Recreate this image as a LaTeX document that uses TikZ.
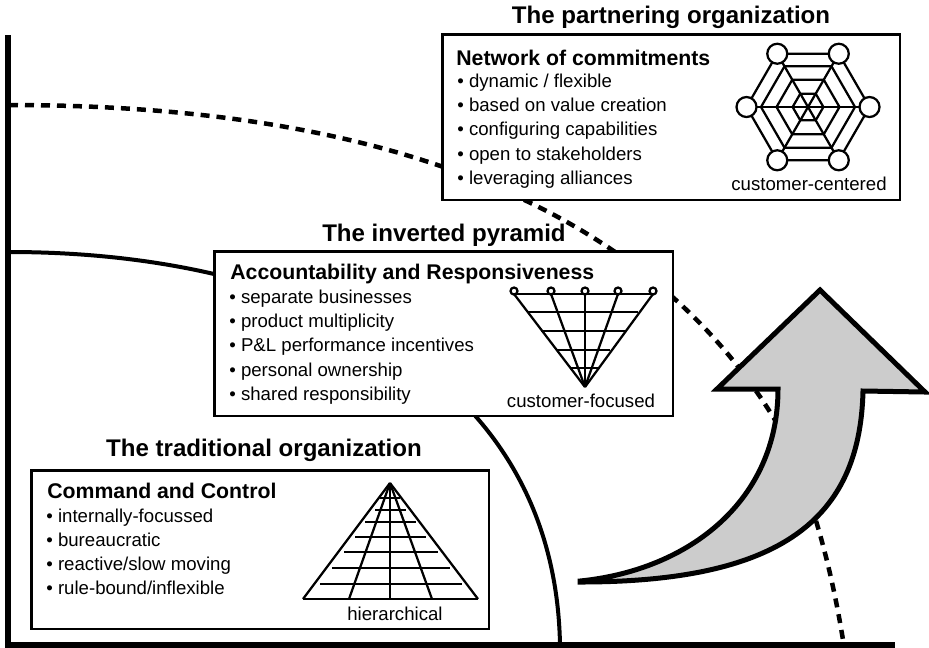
\documentclass[tikz,border=0pt]{standalone}
\usepackage{fontspec}
\setmainfont{Liberation Sans}

\begin{document}
\begin{tikzpicture}[x=0.02cm,y=-0.02cm,
	axisline/.style={line width=0.11cm},
	webline/.style={line width=0.045cm},
	orgbox/.style={draw,fill=white,line width=0.05cm,anchor=north west,inner sep=0pt},
	titletext/.style={font=\fontsize{13.7}{16}\selectfont\bfseries,anchor=base,inner sep=0pt},
	headtext/.style={font=\fontsize{12.1}{14}\selectfont\bfseries,anchor=base west,inner sep=0pt},
	listtext/.style={font=\fontsize{10.6}{13.7}\selectfont,anchor=north west,align=left,inner sep=0pt},
	captiontext/.style={font=\fontsize{10.6}{13}\selectfont,inner sep=0pt}]

\useasboundingbox (0,0) rectangle (929,647);

% axes and the two boundary curves
\draw[line width=0.09cm,dash pattern=on 0.18cm off 0.14cm] (9,105) ..
	controls (300,105) and (620,165) .. (775,420) ..
	controls (808,480) and (830,560) .. (843,640);
\draw[line width=0.08cm] (9,252) .. controls (300,252) and (555,370) .. (560,645);
\draw[axisline] (8,35)--(8,645)--(895,645);

% boxes
\node[orgbox,minimum width=9.16cm,minimum height=3.32cm] (partnerBox) at (441,33) {};
\node[orgbox,minimum width=9.18cm,minimum height=3.3cm] (pyramidBox) at (213,250) {};
\node[orgbox,minimum width=9.16cm,minimum height=3.18cm] (tradBox) at (30,469) {};

% titles
\node[titletext] (partnerTitle) at (671,23) {The partnering organization};
\node[titletext] (pyramidTitle) at (444,241) {The inverted pyramid};
\node[titletext] (tradTitle) at (264,456) {The traditional organization};

% box texts
\node[headtext] (partnerHead) at (456,65) {Network of commitments};
\node[listtext] (partnerList) at (457,74) {• dynamic / flexible\\• based on value creation\\
	• configuring capabilities\\• open to stakeholders\\• leveraging alliances};
\node[headtext] (pyramidHead) at (230,279) {Accountability and Responsiveness};
\node[listtext] (pyramidList) at (229,290) {• separate businesses\\• product multiplicity\\
	• P\&L performance incentives\\• personal ownership\\• shared responsibility};
\node[headtext] (tradHead) at (47,498) {Command and Control};
\node[listtext] (tradList) at (46,508.5) {• internally-focussed\\• bureaucratic\\
	• reactive/slow moving\\• rule-bound/inflexible};

% spider web
\def\cx{808}
\def\cy{107}
\foreach \r in {15.4,31.5,47,61.5}
	\draw[webline] ({\cx+\r},\cy)--({\cx+\r/2},{\cy+0.866*\r})--({\cx-\r/2},{\cy+0.866*\r})--
		({\cx-\r},\cy)--({\cx-\r/2},{\cy-0.866*\r})--({\cx+\r/2},{\cy-0.866*\r})--cycle;
\foreach \a in {0,60,120}
	\draw[webline] ({\cx+61.5*cos(\a)},{\cy+61.5*sin(\a)})--({\cx-61.5*cos(\a)},{\cy-61.5*sin(\a)});
\foreach \a in {0,60,...,300}
	\draw[webline,fill=white] ({\cx+61.5*cos(\a)},{\cy+61.5*sin(\a)}) circle[radius=10];
\node[captiontext] (partnerCaption) at (809,184) {customer-centered};

% inverted pyramid
\draw[webline] (514,294)--(653,294);
\draw[webline] (527,312)--(638,312);
\draw[webline] (541,331)--(625,331);
\draw[webline] (556,350)--(610,350);
\draw[webline] (570,368)--(600,368);
\foreach \x in {514,551,585,618,653}
{
	\draw[webline] (\x,294)--(585,387);
	\draw[webline,fill=white] (\x,291) circle[radius=3.5];
}
\node[captiontext] (pyramidCaption) at (581,401) {customer-focused};

% pyramid
\draw[line width=0.03cm] (303,599)--(478,599);
\draw[webline] (320,584)--(462,584);
\draw[webline] (332,568)--(450,568);
\draw[webline] (344,552)--(438,552);
\draw[webline] (355,537)--(426,537);
\draw[webline] (365,522)--(416,522);
\draw[webline] (375,510)--(406,510);
\draw[webline] (380,498)--(400,498);
\foreach \x in {303,349,390,432,478}
	\draw[webline] (\x,599)--(390,483);
\node[captiontext] (tradCaption) at (395,614) {hierarchical};

% big arrow
\draw[line width=0.1cm,fill=black!20,miter limit=10] (580,581) ..
	controls (690,570) and (778,500) .. (778,389)--(717,389)--(820,290)--(925,392)--(863,391) ..
	controls (860,520) and (780,582) .. (580,582)--cycle;

\end{tikzpicture}
\end{document}
